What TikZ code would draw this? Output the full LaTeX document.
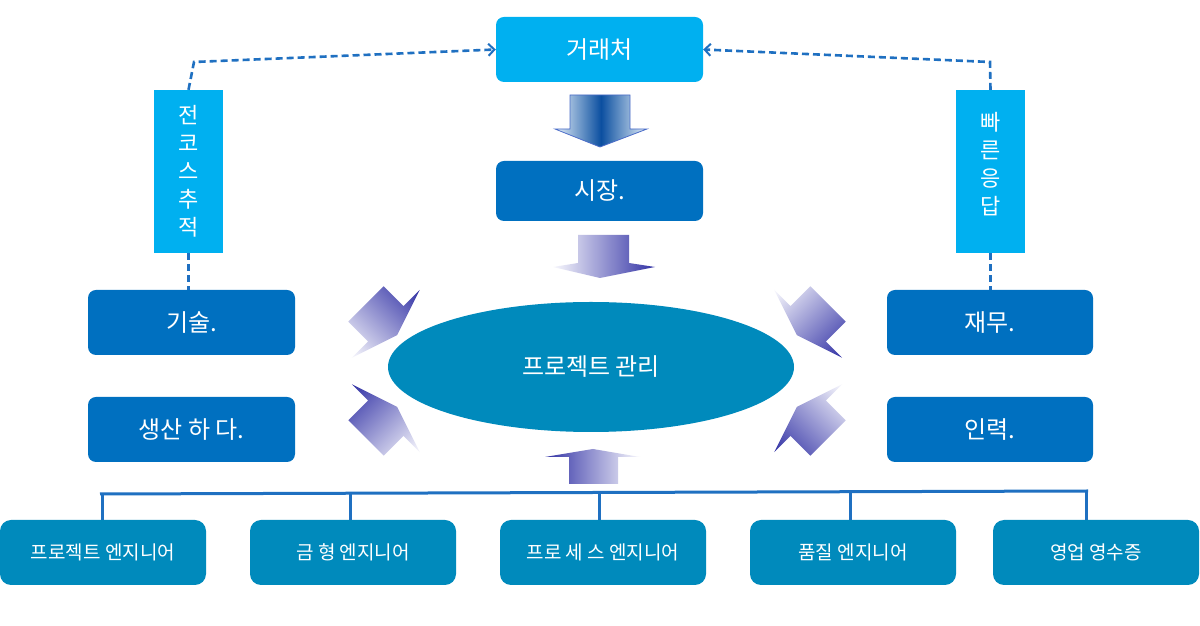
\documentclass[tikz,border=0pt]{standalone}
\usepackage{fontspec}
\setmainfont{Noto Sans CJK KR}
\usetikzlibrary{arrows.meta,shapes.geometric}
\definecolor{cLight}{HTML}{00B0F0}
\definecolor{cDark}{HTML}{0070C0}
\definecolor{cMid}{HTML}{008ABC}
\definecolor{cLine}{HTML}{1F70C1}
\definecolor{arDark}{RGB}{50,50,165}
\definecolor{arLight}{RGB}{248,248,253}
\definecolor{aOneDark}{HTML}{0B4FA0}
\definecolor{aOneLight}{HTML}{E4EFF9}
\definecolor{aOneEdge}{HTML}{4A6CC8}
\tikzset{
  boxbase/.style={rounded corners=8pt, text=white, inner sep=0pt, align=center},
  topbox/.style={boxbase, fill=cLight, minimum width=207pt, minimum height=65pt, font=\fontsize{24}{28}\selectfont},
  darkbox/.style={boxbase, fill=cDark, minimum width=207pt, minimum height=65pt, font=\fontsize{24}{28}\selectfont},
  vbox/.style={fill=cLight, minimum width=69pt, minimum height=163pt, inner sep=0pt},
  vtext/.style={text=white, align=center, inner sep=0pt, font=\fontsize{22}{28}\selectfont},
  engbox/.style={boxbase, rounded corners=11pt, fill=cMid, minimum width=206pt, minimum height=65pt, font=\fontsize{19}{22}\selectfont},
  dashline/.style={draw=cLine, line width=2.6pt, dash pattern=on 7pt off 4pt, -{Straight Barb[length=6pt,width=12pt,line width=2pt]}},
  dashplain/.style={draw=cLine, line width=2.6pt, dash pattern=on 7pt off 4pt},
  treeline/.style={draw=cLine, line width=3pt},
}
\newcommand{\blkarrow}[3]{%
  \shade[transform canvas={shift={(#1,#2)},rotate=#3}, top color=arDark, bottom color=arLight]
  (0,-25) -- (28,-25) -- (28,-48) -- (44,0) -- (28,48) -- (28,25) -- (0,25) -- cycle;}
\begin{document}
\begin{tikzpicture}[x=1pt,y=1pt]
\useasboundingbox (0,0) rectangle (1200,626);
\fill[white] (0,0) rectangle (1200,626);

% top boxes
\node[topbox] (client) at (599.5,576.5) {거래처};
\node[darkbox, minimum height=60pt] (market) at (599.5,435) {시장.};

% side boxes
\node[darkbox] (tech) at (191.5,303.5) {기술.};
\node[darkbox] (prod) at (191.5,196.5) {생산 하 다.};
\node[darkbox, minimum width=206pt] (fin) at (990,303.5) {재무.};
\node[darkbox, minimum width=206pt] (hr) at (990,196.5) {인력.};

% vertical boxes
\node[vbox] (tl) at (188.5,454.5) {};
\node[vtext] (tltext) at (tl.center) {전\\코\\스\\추\\적};
\node[vbox] (tr) at (990.5,454.5) {};
\node[vtext] (trtext) at ([yshift=7pt]tr.center) {빠\\른\\응\\답};

% ellipse
\node[ellipse, fill=cMid, minimum width=406pt, minimum height=130pt, inner sep=0pt,
      text=white, font=\fontsize{24}{28}\selectfont] (pm) at (591,259) {프로젝트 관리};

% dashed connectors
\coordinate (kL) at (194,564);
\coordinate (kR) at (990,564);
\draw[dashline] (tl.north) -- (kL) -- (client.west);
\draw[dashline] (tr.north) -- (kR) -- (client.east);
\draw[dashplain] (tl.south) -- (tl.south |- tech.north);
\draw[dashplain] (tr.south) -- (tr.south |- fin.north);

% block arrow client -> market
\shadedraw[left color=aOneLight, right color=aOneLight, middle color=aOneDark, draw=aOneEdge, line width=0.8pt]
  (570,531) -- (630,531) -- (630,497) -- (647,497) -- (600,479) -- (555,497) -- (570,497) -- cycle;
% block arrow market -> pm
\shade[left color=arLight, right color=arDark]
  (578,391) -- (629,391) -- (629,363) -- (655,359) -- (600,348) -- (553,359) -- (578,363) -- cycle;
% block arrow tree -> pm
\shade[left color=arDark, right color=arLight]
  (569,142) -- (618,142) -- (618,169) -- (640,169) -- (593,177) -- (545,169) -- (569,169) -- cycle;

% diagonal arrows
\blkarrow{366}{322}{-45}
\blkarrow{366}{188}{45}
\blkarrow{828}{322}{-135}
\blkarrow{828}{188}{135}

% engineering boxes
\node[engbox] (e1) at (103,73.5) {프로젝트 엔지니어};
\node[engbox] (e2) at (353,73.5) {금 형 엔지니어};
\node[engbox] (e3) at (603,73.5) {프로 세 스 엔지니어};
\node[engbox] (e4) at (853,73.5) {품질 엔지니어};
\node[engbox] (e5) at (1096,73.5) {영업 영수증};

% tree
\coordinate (barL) at (100,132);
\coordinate (barR) at (1088,135);
\draw[treeline] (barL) -- (barR);
\draw[treeline] ([xshift=-1pt]e1.north) -- ++(0,26);
\draw[treeline] ([xshift=-3pt]e2.north) -- ++(0,26.5);
\draw[treeline] ([xshift=-4pt]e3.north) -- ++(0,27);
\draw[treeline] ([xshift=-3pt]e4.north) -- ++(0,27.5);
\draw[treeline] ([xshift=-10pt]e5.north) -- ++(0,28);
\end{tikzpicture}
\end{document}
